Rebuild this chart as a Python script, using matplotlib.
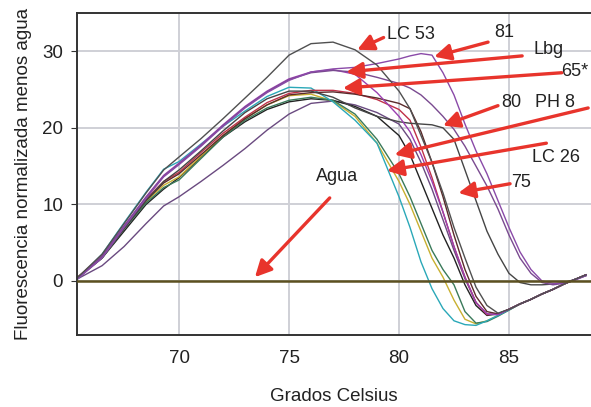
import matplotlib
matplotlib.use("Agg")
import matplotlib.pyplot as plt

plt.rcParams["font.family"] = ["Liberation Sans", "DejaVu Sans"]

# temperatura (grados Celsius), rejilla comun para todas las curvas
temps = [65.4, 66.5, 67.5, 68.5, 69.3, 70, 71, 72, 73, 74, 75, 76, 77, 78, 79, 80,
         80.5, 81, 81.5, 82, 82.5, 83, 83.5, 84, 84.5, 85, 85.5, 86, 86.5, 87, 87.5, 88, 88.5]

# fluorescencia normalizada menos agua, una lista por muestra
lc53 = [0.5, 3.5, 7.5, 11.5, 14.5, 16.2, 18.6, 21.2, 23.9, 26.6, 29.5, 31.0, 31.2, 30.2, 28.2, 24.8,
        22.5, 19.0, 15.5, 11.5, 7.0, 3.0, -0.8, -3.2, -4.2, -3.7, -3.0, -2.4, -1.7, -1.1, -0.4, 0.2, 0.8]
m81 = [0.3, 3.0, 7.0, 10.8, 13.6, 15.2, 17.6, 20.2, 22.6, 24.6, 26.2, 27.3, 27.7, 27.9, 28.4, 29.0,
       29.4, 29.7, 29.5, 27.2, 24.3, 20.5, 17.0, 14.0, 10.5, 7.0, 3.8, 1.5, 0.0, -0.3, -0.3, 0.1, 0.7]
m81b = [0.4, 3.2, 7.1, 10.9, 13.7, 15.3, 17.7, 20.3, 22.7, 24.7, 26.3, 27.2, 27.5, 27.3, 26.6, 25.8,
        25.2, 24.3, 23.0, 21.5, 19.8, 17.6, 15.0, 12.4, 9.4, 6.0, 3.0, 1.0, -0.2, -0.5, -0.3, 0.2, 0.7]
lbg = [0.4, 3.3, 7.2, 11.0, 13.8, 15.4, 17.8, 20.4, 22.8, 24.8, 26.4, 27.3, 27.6, 27.0, 24.6, 21.5,
       19.5, 16.5, 13.0, 9.0, 4.5, 0.5, -2.8, -4.3, -4.4, -3.7, -3.0, -2.4, -1.7, -1.1, -0.4, 0.2, 0.8]
m65 = [0.5, 3.2, 7.0, 10.5, 12.8, 14.0, 16.5, 19.0, 21.2, 23.0, 24.3, 24.6, 24.7, 24.4, 23.9, 23.2,
       22.5, 19.5, 15.5, 11.0, 6.0, 1.5, -2.0, -4.0, -4.3, -3.7, -3.0, -2.4, -1.7, -1.1, -0.4, 0.2, 0.8]
m80 = [0.4, 3.0, 6.8, 10.5, 13.0, 14.5, 17.0, 19.6, 22.0, 23.8, 24.8, 24.8, 24.0, 22.6, 21.5, 20.8,
       20.6, 20.5, 20.4, 20.0, 18.5, 14.5, 10.5, 6.5, 3.5, 1.0, -0.2, -0.5, -0.5, -0.4, -0.2, 0.2, 0.7]
ph8 = [0.3, 3.5, 7.6, 11.6, 14.6, 15.6, 17.9, 20.2, 22.2, 24.1, 25.3, 25.2, 23.4, 21.0, 18.0, 11.0,
       7.0, 2.5, -1.0, -3.6, -5.2, -5.7, -5.8, -5.2, -4.5, -3.8, -3.0, -2.4, -1.7, -1.1, -0.4, 0.2, 0.8]
lc26 = [0.5, 3.0, 6.8, 10.2, 12.2, 13.2, 16.0, 18.8, 21.0, 22.6, 23.6, 24.0, 23.6, 21.8, 18.5, 14.0,
        11.0, 7.5, 4.0, 1.5, -0.5, -4.0, -5.5, -5.3, -4.6, -3.8, -3.0, -2.4, -1.7, -1.1, -0.4, 0.2, 0.8]
amarilla = [0.4, 3.1, 6.9, 10.4, 12.5, 13.6, 16.3, 19.0, 21.2, 23.0, 24.2, 24.4, 23.5, 21.5, 18.0, 13.0,
            10.0, 6.5, 3.0, 0.5, -2.5, -5.0, -5.6, -5.2, -4.5, -3.8, -3.0, -2.4, -1.7, -1.1, -0.4, 0.2, 0.8]
m75 = [0.5, 3.0, 6.5, 10.0, 12.0, 13.5, 16.2, 18.8, 20.8, 22.4, 23.4, 23.8, 23.6, 22.8, 21.5, 19.0,
       16.5, 13.0, 9.5, 6.0, 3.0, -0.5, -3.2, -4.5, -4.3, -3.7, -3.0, -2.4, -1.7, -1.1, -0.4, 0.2, 0.8]
baja = [0.3, 2.0, 4.5, 7.5, 9.8, 11.0, 13.0, 15.1, 17.3, 19.7, 21.8, 23.2, 23.5, 23.0, 22.0, 20.5,
        18.5, 15.5, 12.0, 8.0, 4.0, 0.3, -2.8, -4.3, -4.4, -3.7, -3.0, -2.4, -1.7, -1.1, -0.4, 0.2, 0.8]
roja = [0.5, 3.3, 7.1, 10.7, 13.0, 14.2, 16.8, 19.3, 21.4, 23.3, 24.5, 24.9, 24.9, 24.5, 23.7, 22.4,
        21.0, 17.5, 13.5, 9.0, 4.5, 0.5, -2.8, -4.4, -4.3, -3.7, -3.0, -2.4, -1.7, -1.1, -0.4, 0.2, 0.8]

series = [
    (baja, "#6a4a80"), (m75, "#222222"), (amarilla, "#c8b030"), (lc26, "#3a7a5a"),
    (ph8, "#2aa8b8"), (roja, "#c03048"), (m65, "#5a2a2a"), (m80, "#454545"),
    (lbg, "#9a3fb0"), (m81b, "#7a4a90"), (m81, "#8a4aa8"), (lc53, "#505050"),
]

# etiquetas: (texto, posicion del texto, cola de flecha, punta de flecha)
etiquetas = [
    ("LC 53", (80.55, 32.2), (79.3, 31.8), (78.1, 30.2)),
    ("81", (84.8, 32.4), (84.05, 31.2), (81.6, 29.3)),
    ("Lbg", (86.8, 30.2), (85.6, 29.4), (77.6, 27.3)),
    ("65*", (88.0, 27.3), (87.4, 27.2), (77.45, 25.2)),
    ("80", (85.1, 23.3), (84.5, 22.9), (82.0, 20.3)),
    ("PH 8", (87.1, 23.3), (88.6, 22.6), (79.8, 16.5)),
    ("LC 26", (87.15, 16.1), (86.7, 18.0), (79.45, 14.4)),
    ("75", (85.55, 12.8), (85.05, 12.7), (82.7, 11.5)),
    ("Agua", (77.2, 13.6), (76.85, 10.85), (73.45, 0.5)),
]

fig = plt.figure(figsize=(5.91, 4.07), dpi=100)
ax = fig.add_axes([0.1303, 0.177, 0.8697, 0.791])

for ys, c in series:
    ax.plot(temps, ys, color=c, lw=1.0)

# linea del agua
ax.axhline(0, color="#5c5020", lw=1.8, zorder=3)

red = "#e8342c"
for txt, pos, tail, head in etiquetas:
    ax.text(pos[0], pos[1], txt, fontsize=13, ha="center", va="center", color="#222222")
    ax.annotate("", xy=head, xytext=tail,
                arrowprops=dict(arrowstyle="-|>,head_length=0.7,head_width=0.35",
                                color=red, lw=2.4, mutation_scale=14, shrinkA=0, shrinkB=0))

ax.set_xlim(65.36, 88.73)
ax.set_ylim(-7.05, 35.0)
ax.set_xticks([70, 75, 80, 85])
ax.set_yticks([0, 10, 20, 30])
ax.grid(True, color="#cfd0d6", lw=1.4)
ax.set_axisbelow(True)
ax.tick_params(axis="x", length=0, pad=11, labelsize=13.5, labelcolor="#222222")
ax.tick_params(axis="y", length=4, pad=6, labelsize=13.5, labelcolor="#222222", color="#333333")

for s in ["left", "bottom", "top"]:
    ax.spines[s].set_color("#333333")
    ax.spines[s].set_linewidth(1.4)
ax.spines["right"].set_visible(False)

ax.set_xlabel("Grados Celsius", fontsize=13.5, color="#222222", labelpad=15)
ax.set_ylabel("Fluorescencia normalizada menos agua", fontsize=13.5, color="#222222", labelpad=7)

fig.savefig("out.png", dpi=100)
